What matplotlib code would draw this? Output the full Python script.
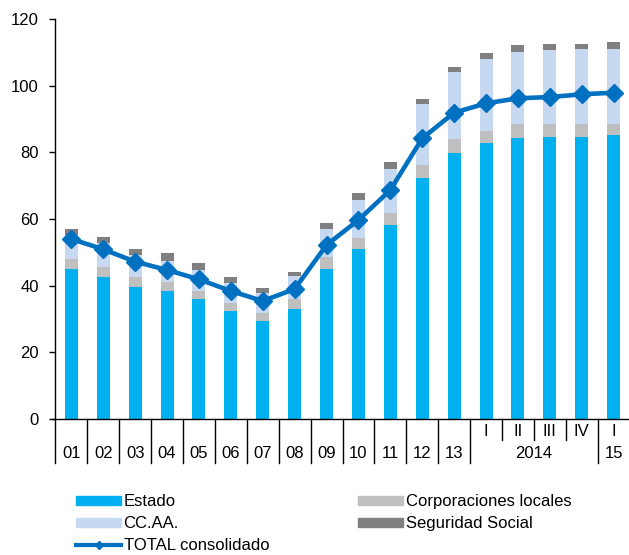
import matplotlib
matplotlib.use('Agg')
import matplotlib.pyplot as plt
import matplotlib.transforms as mtransforms
from matplotlib.patches import Patch
from matplotlib.lines import Line2D
import numpy as np

plt.rcParams['font.family'] = ['Liberation Sans', 'DejaVu Sans']

# periods: years 2001-2013, quarters of 2014, first quarter of 2015
years = ['01', '02', '03', '04', '05', '06', '07', '08', '09', '10', '11', '12', '13']
quarters = ['I', 'II', 'III', 'IV', 'I']

estado = [45.0, 42.7, 39.7, 38.4, 35.9, 32.5, 29.5, 33.0, 45.0, 51.0, 58.2, 72.4,
          79.9, 82.7, 84.2, 84.7, 84.7, 85.2]
corp_locales = [3.0, 3.0, 3.0, 2.8, 2.5, 2.4, 2.4, 2.9, 3.5, 3.4, 3.5, 3.8,
                4.1, 3.8, 4.3, 3.8, 3.8, 3.3]
ccaa = [7.3, 7.0, 6.5, 6.2, 6.3, 6.0, 6.0, 7.0, 8.4, 11.3, 13.2, 18.3,
        20.2, 21.5, 21.6, 22.2, 22.6, 22.5]
seg_social = [1.6, 1.8, 1.8, 2.3, 2.0, 1.8, 1.3, 1.3, 2.0, 2.0, 2.1, 1.5,
              1.5, 1.7, 2.1, 1.8, 1.4, 2.0]
total = [54.0, 50.9, 47.2, 44.7, 41.9, 38.4, 35.4, 39.0, 52.2, 59.7, 68.7, 84.2,
         91.9, 94.7, 96.2, 96.6, 97.4, 97.9]

c_estado = '#00B0F0'
c_corp = '#BFBFBF'
c_ccaa = '#C6D9F1'
c_ss = '#808080'
c_total = '#0070C0'
fs = 12

fig = plt.figure(figsize=(6.29, 5.55), dpi=100)
ax = fig.add_axes([55.4 / 629, 136 / 555, 574.2 / 629, 400 / 555])

x = np.arange(len(estado))
w = 0.41
b1 = np.array(estado)
b2 = b1 + np.array(corp_locales)
b3 = b2 + np.array(ccaa)
ax.bar(x, estado, w, color=c_estado, zorder=2)
ax.bar(x, corp_locales, w, bottom=b1, color=c_corp, zorder=2)
ax.bar(x, ccaa, w, bottom=b2, color=c_ccaa, zorder=2)
ax.bar(x, seg_social, w, bottom=b3, color=c_ss, zorder=2)
ax.plot(x, total, color=c_total, lw=3.3, marker='D', ms=9.5, zorder=3)

ax.set_xlim(-0.5, len(estado) - 0.5)
ax.set_ylim(0, 120)
ax.set_yticks(range(0, 121, 20))
ax.tick_params(axis='y', length=4, width=1, labelsize=fs, pad=8)
ax.tick_params(axis='x', length=0, labelbottom=False)
for s in ['top', 'right']:
    ax.spines[s].set_visible(False)
ax.spines['left'].set_linewidth(1)
ax.spines['bottom'].set_linewidth(1)

# category axis drawn by hand: separators and two label rows
trans = mtransforms.blended_transform_factory(ax.transData, ax.transAxes)
long_sep = -44 / 400
short_sep = -21 / 400
for k in range(len(estado) + 1):
    pos = k - 0.5
    depth = short_sep if 13 < k < 17 else long_sep
    ax.plot([pos, pos], [0, depth], color='black', lw=1, transform=trans,
            clip_on=False)
ax.plot([-0.6, -0.5], [0, 0], color='black', lw=1, transform=trans, clip_on=False)

row_low = -34 / 400
row_up = -13 / 400
for i, lab in enumerate(years):
    ax.text(i, row_low, lab, transform=trans, ha='center', va='center', fontsize=fs)
for i, lab in enumerate(quarters):
    ax.text(13 + i, row_up, lab, transform=trans, ha='center', va='center', fontsize=fs)
ax.text(14.5, row_low, '2014', transform=trans, ha='center', va='center', fontsize=fs)
ax.text(17, row_low, '15', transform=trans, ha='center', va='center', fontsize=fs)

h_estado = Patch(color=c_estado, label='Estado')
h_ccaa = Patch(color=c_ccaa, label='CC.AA.')
h_total = Line2D([], [], color=c_total, lw=3, marker='D', ms=4, label='TOTAL consolidado')
h_corp = Patch(color=c_corp, label='Corporaciones locales')
h_ss = Patch(color=c_ss, label='Seguridad Social')

leg_kw = dict(frameon=False, fontsize=fs, handlelength=2.7, handleheight=0.45,
              handletextpad=0.15, labelspacing=0.42, borderaxespad=0, borderpad=0,
              loc='upper left')
fig.legend(handles=[h_estado, h_ccaa, h_total], bbox_to_anchor=(76 / 629, 1 - 494 / 555),
           **leg_kw)
fig.legend(handles=[h_corp, h_ss], bbox_to_anchor=(358 / 629, 1 - 494 / 555), **leg_kw)

fig.savefig('out.png', dpi=100)
